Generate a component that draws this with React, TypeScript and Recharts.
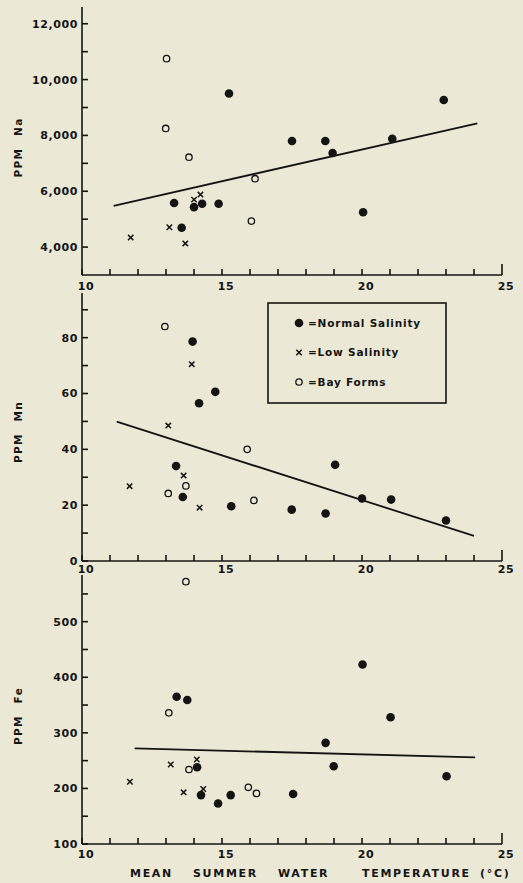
import React from 'react';
import { ScatterChart, Scatter, XAxis, YAxis, Legend } from 'recharts';

const INK = '#141414';
const BG = '#ebe8d6';
const FONT = '"DejaVu Sans", "Liberation Sans", Arial, sans-serif';

// ---------- axis ticks ----------
const xTicks = [10, 11, 12, 13, 14, 15, 16, 17, 18, 19, 20, 21, 22, 23, 24, 25];
const xLabelTicks = [10, 15, 20, 25];

const naTicks = [4000, 5000, 6000, 7000, 8000, 9000, 10000, 11000, 12000];
const naLabelTicks = [4000, 6000, 8000, 10000, 12000];
const mnTicks = [0, 10, 20, 30, 40, 50, 60, 70, 80, 90];
const mnLabelTicks = [0, 20, 40, 60, 80];
const feTicks = [100, 150, 200, 250, 300, 350, 400, 450, 500, 550];
const feLabelTicks = [100, 200, 300, 400, 500];

// ---------- data: Na ----------
const naNormal = [
  { x: 13.29, y: 5580 }, { x: 13.56, y: 4690 }, { x: 14.0, y: 5430 }, { x: 14.29, y: 5550 },
  { x: 14.88, y: 5550 }, { x: 15.25, y: 9500 }, { x: 17.5, y: 7800 }, { x: 18.69, y: 7800 },
  { x: 18.95, y: 7370 }, { x: 20.04, y: 5250 }, { x: 21.08, y: 7880 }, { x: 22.92, y: 9270 },
];
const naLow = [
  { x: 11.74, y: 4340 }, { x: 13.12, y: 4710 }, { x: 13.69, y: 4130 }, { x: 14.0, y: 5700 }, { x: 14.23, y: 5880 },
];
const naBay = [
  { x: 13.02, y: 10750 }, { x: 12.99, y: 8250 }, { x: 13.82, y: 7220 }, { x: 16.18, y: 6450 }, { x: 16.05, y: 4930 },
];
const naFit = [{ x: 11.13, y: 5480 }, { x: 24.12, y: 8430 }];

// ---------- data: Mn ----------
const mnNormal = [
  { x: 13.95, y: 78.6 }, { x: 14.18, y: 56.5 }, { x: 14.76, y: 60.6 }, { x: 13.36, y: 34.0 },
  { x: 13.6, y: 22.9 }, { x: 15.33, y: 19.6 }, { x: 17.49, y: 18.4 }, { x: 18.7, y: 17.0 },
  { x: 19.04, y: 34.5 }, { x: 20.0, y: 22.4 }, { x: 21.04, y: 22.0 }, { x: 23.0, y: 14.5 },
];
const mnLow = [
  { x: 13.92, y: 70.5 }, { x: 13.08, y: 48.5 }, { x: 11.7, y: 26.8 }, { x: 13.63, y: 30.6 }, { x: 14.2, y: 19.1 },
];
const mnBay = [
  { x: 12.96, y: 84 }, { x: 13.08, y: 24.2 }, { x: 13.71, y: 26.9 }, { x: 15.9, y: 40 }, { x: 16.14, y: 21.7 },
];
const mnFit = [{ x: 11.24, y: 49.9 }, { x: 24.0, y: 9.0 }];

// ---------- data: Fe ----------
const feNormal = [
  { x: 13.38, y: 365 }, { x: 13.76, y: 359 }, { x: 14.11, y: 238 }, { x: 14.25, y: 188 },
  { x: 14.86, y: 173 }, { x: 15.31, y: 188 }, { x: 17.54, y: 190 }, { x: 18.7, y: 282 },
  { x: 18.99, y: 240 }, { x: 20.02, y: 423 }, { x: 21.02, y: 328 }, { x: 23.02, y: 222 },
];
const feLow = [
  { x: 11.71, y: 212 }, { x: 13.17, y: 243 }, { x: 13.63, y: 193 }, { x: 14.1, y: 252 }, { x: 14.33, y: 199 },
];
const feBay = [
  { x: 13.71, y: 572 }, { x: 13.1, y: 336 }, { x: 13.82, y: 234 }, { x: 15.94, y: 202 }, { x: 16.23, y: 191 },
];
const feFit = [{ x: 11.88, y: 272 }, { x: 24.04, y: 256 }];

// ---------- legend & titles ----------
const legendItems = [
  { kind: 'filled', label: '=Normal Salinity' },
  { kind: 'cross', label: '=Low Salinity' },
  { kind: 'open', label: '=Bay Forms' },
];
const xTitleWords = ['MEAN', 'SUMMER', 'WATER', 'TEMPERATURE', '(°C)'];
const xTitleOffsets = [48, 111, 196, 280, 398];

// ---------- shapes ----------
const FilledDot = (p: any) => <circle cx={p.cx} cy={p.cy} r={4.3} fill={INK} />;
const OpenDot = (p: any) => (
  <circle cx={p.cx} cy={p.cy} r={3.2} fill="none" stroke={INK} strokeWidth={1.3} />
);
const CrossMark = (p: any) => {
  const s = 2.7;
  return (
    <g stroke={INK} strokeWidth={1.5}>
      <line x1={p.cx - s} y1={p.cy - s} x2={p.cx + s} y2={p.cy + s} />
      <line x1={p.cx - s} y1={p.cy + s} x2={p.cx + s} y2={p.cy - s} />
    </g>
  );
};
const NoDot = () => <g />;

const fmtThousands = (v: number) => v.toLocaleString('en-US');

const makeXTick = (labelDy: number) => (props: any) => {
  const { x, y, payload } = props;
  const v = payload.value;
  const len = v === 25 ? 11 : 6;
  return (
    <g>
      <path d={`M${x},${y}V${y - len}`} stroke={INK} strokeWidth={1.6} fill="none" />
      {xLabelTicks.includes(v) && (
        <text x={x + 4} y={y + labelDy} textAnchor="middle" fill={INK}
          style={{ fontFamily: FONT, fontSize: 11, fontWeight: 'bold', letterSpacing: 0.6 }}>
          {v}
        </text>
      )}
    </g>
  );
};

const makeYTick = (labels: number[], fmt: (v: number) => string) => (props: any) => {
  const { x, y, payload } = props;
  const v = payload.value;
  return (
    <g>
      <path d={`M${x},${y}H${x + 6}`} stroke={INK} strokeWidth={1.6} fill="none" />
      {labels.includes(v) && (
        <text x={x - 4} y={y} dy="0.36em" textAnchor="end" fill={INK}
          style={{ fontFamily: FONT, fontSize: 11, fontWeight: 'bold', letterSpacing: 0.6 }}>
          {fmt(v)}
        </text>
      )}
    </g>
  );
};

const makeYLabel = (text: string, dy: number) => (props: any) => {
  const vb = props.viewBox;
  const cx = 18;
  const cy = vb.y + vb.height / 2 + dy;
  return (
    <text x={cx} y={cy} transform={`rotate(-90 ${cx} ${cy})`} textAnchor="middle"
      dominantBaseline="central" fill={INK}
      style={{ fontFamily: FONT, fontSize: 10.5, fontWeight: 'bold', letterSpacing: 1.3, wordSpacing: 7 }}>
      {text}
    </text>
  );
};

const XTitle = (props: any) => {
  const vb = props.viewBox;
  return (
    <text y={vb.y + 33} fill={INK}
      style={{ fontFamily: FONT, fontSize: 11, fontWeight: 'bold', letterSpacing: 1.7 }}>
      {xTitleWords.map((w, i) => (
        <tspan key={w} x={vb.x + xTitleOffsets[i]}>{w}</tspan>
      ))}
    </text>
  );
};

const LegendBox = () => (
  <svg width={180} height={102} style={{ display: 'block' }}>
    <rect x={1} y={1} width={178} height={100} fill="none" stroke={INK} strokeWidth={1.6} />
    {legendItems.map((it, i) => {
      const cy = 21 + i * 29.5;
      const cx = 32;
      return (
        <g key={it.label}>
          {it.kind === 'filled' && <FilledDot cx={cx} cy={cy} />}
          {it.kind === 'open' && <OpenDot cx={cx} cy={cy} />}
          {it.kind === 'cross' && <CrossMark cx={cx} cy={cy} />}
          <text x={41} y={cy} dy="0.36em" fill={INK}
            style={{ fontFamily: FONT, fontSize: 10.5, fontWeight: 'bold', letterSpacing: 0.8 }}>
            {it.label}
          </text>
        </g>
      );
    })}
  </svg>
);

type PanelProps = {
  top: number;
  height: number;
  xAxisHeight: number;
  xLabelDy: number;
  yDomain: [number, number];
  yTicks: number[];
  yLabels: number[];
  yFmt: (v: number) => string;
  yTitle: string;
  yTitleDy: number;
  normal: any[];
  low: any[];
  bay: any[];
  fit: any[];
  withLegend?: boolean;
  withXTitle?: boolean;
};

const Panel = (p: PanelProps) => (
  <div style={{ position: 'absolute', left: 0, top: p.top }}>
    <ScatterChart width={523} height={p.height} margin={{ top: 7, right: 21, bottom: 0, left: 0 }}>
      <XAxis
        type="number"
        dataKey="x"
        domain={[10, 25]}
        ticks={xTicks}
        interval={0}
        allowDataOverflow
        height={p.xAxisHeight}
        axisLine={{ stroke: INK, strokeWidth: 1.6 }}
        tickLine={false}
        tickSize={0}
        tickMargin={0}
        tick={makeXTick(p.xLabelDy)}
        label={p.withXTitle ? { content: XTitle } : undefined}
      />
      <YAxis
        type="number"
        dataKey="y"
        domain={p.yDomain}
        ticks={p.yTicks}
        interval={0}
        allowDataOverflow
        width={82}
        axisLine={{ stroke: INK, strokeWidth: 1.6 }}
        tickLine={false}
        tickSize={0}
        tickMargin={0}
        tick={makeYTick(p.yLabels, p.yFmt)}
        label={{ content: makeYLabel(p.yTitle, p.yTitleDy) }}
      />
      <Scatter data={p.fit} line={{ stroke: INK, strokeWidth: 1.8 }} shape={NoDot}
        isAnimationActive={false} legendType="none" />
      <Scatter name="Normal Salinity" data={p.normal} shape={FilledDot} isAnimationActive={false} />
      <Scatter name="Low Salinity" data={p.low} shape={CrossMark} isAnimationActive={false} />
      <Scatter name="Bay Forms" data={p.bay} shape={OpenDot} isAnimationActive={false} />
      {p.withLegend && (
        <Legend
          layout="vertical"
          verticalAlign="middle"
          align="center"
          wrapperStyle={{ left: 267, top: 16, width: 180, height: 102 }}
          content={() => <LegendBox />}
        />
      )}
    </ScatterChart>
  </div>
);

export default function App() {
  return (
    <div style={{ position: 'fixed', left: 0, top: 0, width: 523, height: 883, background: BG, overflow: 'hidden' }}>
      <Panel top={0} height={295} xAxisHeight={20} xLabelDy={14.5}
        yDomain={[3000, 12600]} yTicks={naTicks} yLabels={naLabelTicks} yFmt={fmtThousands}
        yTitle="PPM Na" yTitleDy={6.5}
        normal={naNormal} low={naLow} bay={naBay} fit={naFit} />
      <Panel top={286} height={295} xAxisHeight={20} xLabelDy={11.8}
        yDomain={[0, 96]} yTicks={mnTicks} yLabels={mnLabelTicks} yFmt={(v) => String(v)}
        yTitle="PPM Mn" yTitleDy={5}
        normal={mnNormal} low={mnLow} bay={mnBay} fit={mnFit} withLegend />
      <Panel top={568} height={315} xAxisHeight={39} xLabelDy={13.5}
        yDomain={[100, 584]} yTicks={feTicks} yLabels={feLabelTicks} yFmt={(v) => String(v)}
        yTitle="PPM Fe" yTitleDy={6.5}
        normal={feNormal} low={feLow} bay={feBay} fit={feFit} withXTitle />
    </div>
  );
}
